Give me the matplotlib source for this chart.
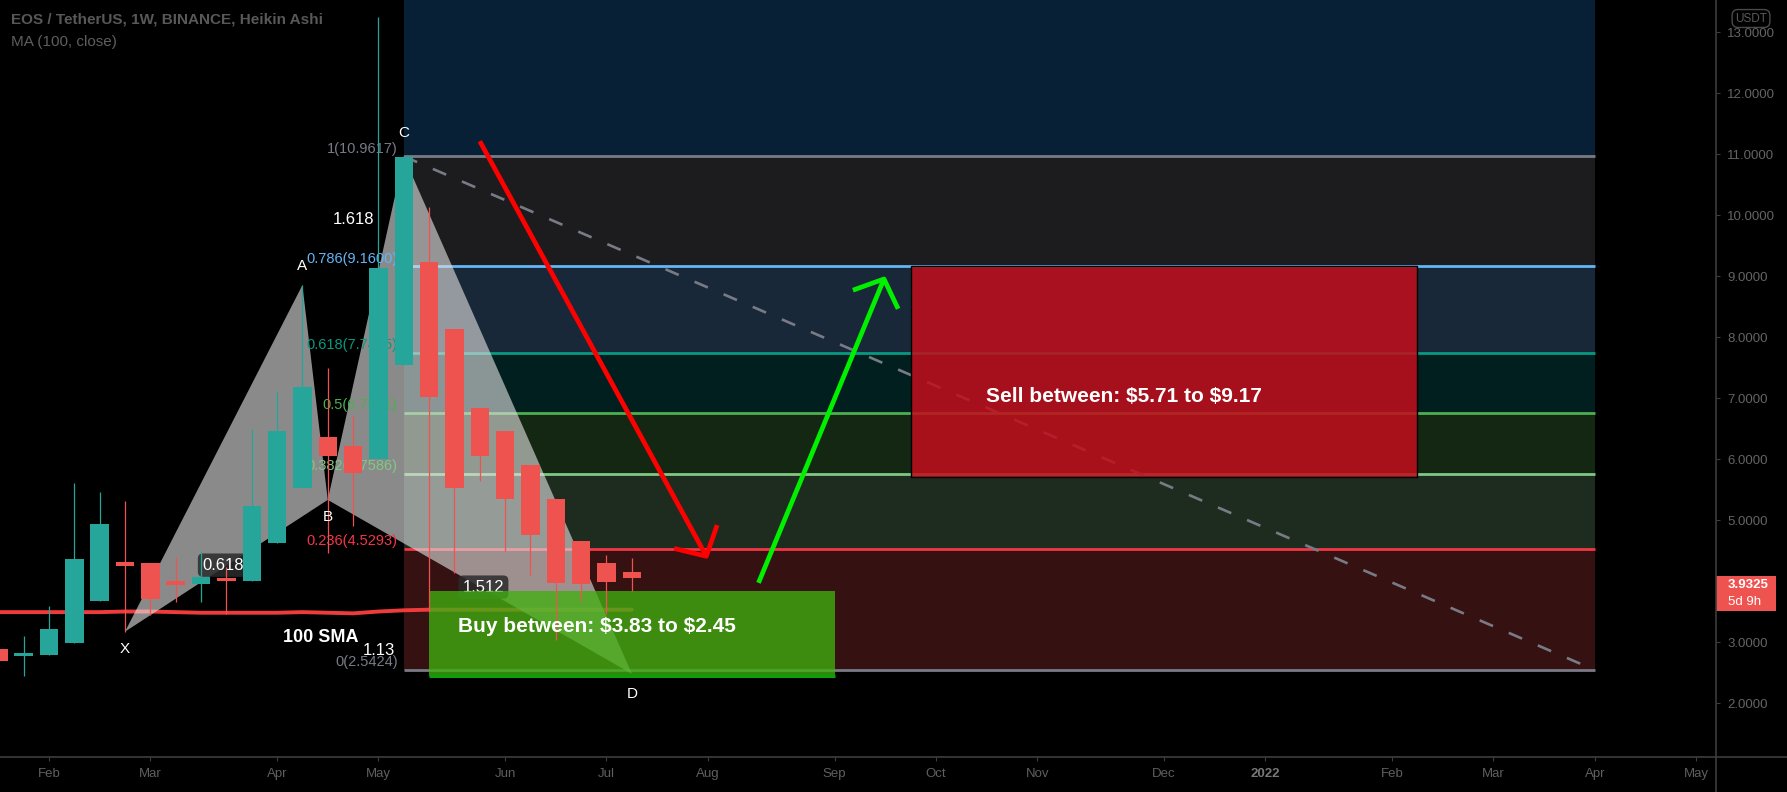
import numpy as np
import pandas as pd
import matplotlib
matplotlib.use("Agg")
import matplotlib.pyplot as plt
import matplotlib.dates as mdates
import matplotlib.transforms as mtransforms
from matplotlib.patches import Rectangle, Polygon, FancyArrowPatch
from matplotlib.lines import Line2D

plt.rcParams["font.family"] = ["Liberation Sans", "DejaVu Sans"]

# weekly Heikin Ashi candles, EOS / USDT
candle_dates = pd.date_range("2021-01-18", periods=26, freq="7D")
ha_open = [2.89, 2.79, 2.79, 2.98, 3.67, 4.31, 4.30, 4.00, 3.95, 4.03, 4.00, 4.62, 5.52,
           6.36, 6.21, 6.00, 7.54, 9.23, 8.13, 6.84, 6.46, 5.90, 5.34, 4.65, 4.30, 4.15]
ha_high = [2.89, 3.10, 3.59, 5.61, 5.46, 5.31, 4.30, 4.39, 4.49, 4.23, 6.49, 7.10, 8.85,
           7.49, 6.70, 13.25, 10.96, 10.13, 8.13, 6.84, 6.46, 5.90, 5.34, 4.65, 4.43, 4.38]
ha_low = [2.69, 2.44, 2.79, 2.98, 3.67, 3.16, 3.44, 3.66, 3.66, 3.46, 4.00, 4.62, 5.52,
          4.46, 4.90, 6.00, 7.54, 3.50, 4.13, 5.64, 4.50, 4.10, 3.03, 3.67, 3.46, 3.84]
ha_close = [2.69, 2.81, 3.21, 4.36, 4.93, 4.25, 3.70, 3.93, 4.07, 4.01, 5.23, 6.46, 7.18,
            6.05, 5.77, 9.13, 10.95, 7.02, 5.53, 6.05, 5.34, 4.76, 3.97, 3.95, 3.98, 4.05]
ma100 = [3.49, 3.49, 3.49, 3.49, 3.49, 3.50, 3.50, 3.49, 3.48, 3.48, 3.48, 3.48, 3.49,
         3.48, 3.47, 3.50, 3.52, 3.53, 3.53, 3.53, 3.53, 3.53, 3.53, 3.53, 3.53, 3.53]
last_price = 3.9325

# XABCD pattern
xabcd_names = ["X", "A", "B", "C", "D"]
xabcd_dates = ["2021-02-22", "2021-04-12", "2021-04-19", "2021-05-10", "2021-07-12"]
xabcd_prices = [3.17, 8.85, 5.33, 10.96, 2.48]
ratio_texts = ["0.618", "1.618", "1.512", "1.13"]
ratio_dates = ["2021-03-21", "2021-04-26", "2021-06-01", "2021-05-03"]
ratio_prices = [4.26, 9.93, 3.90, 2.86]

# fib retracement
fib_start, fib_end = "2021-05-10", "2022-04-04"
fib_ratios = [0, 0.236, 0.382, 0.5, 0.618, 0.786, 1, 1.618]
fib_prices = [2.5424, 4.5293, 5.7586, 6.7521, 7.7455, 9.1600, 10.9617, 16.1648]
fib_labels = ["0(2.5424)", "0.236(4.5293)", "0.382(5.7586)", "0.5(6.7521)",
              "0.618(7.7455)", "0.786(9.1600)", "1(10.9617)"]
fib_line_colors = ["#787b86", "#f23645", "#81c784", "#4caf50", "#089981", "#64b5f6", "#787b86"]
fib_zone_colors = ["#361111", "#1e2c20", "#132713", "#011f1e", "#182838", "#1c1c1e", "#072035"]

# trade zones
buy_dates, buy_prices = ["2021-05-17", "2021-09-06"], [2.45, 3.83]
sell_dates, sell_prices = ["2021-09-27", "2022-02-14"], [5.71, 9.17]
red_arrow = (["2021-05-31", "2021-08-02"], [11.21, 4.36])
green_arrow = (["2021-08-16", "2021-09-20"], [3.97, 9.00])

TEAL, RED = "#26a69a", "#ef5350"
d2n = lambda s: mdates.date2num(pd.Timestamp(s))

fig = plt.figure(figsize=(17.87, 7.92), dpi=100, facecolor="black")
ax_l, ax_b, ax_w, ax_h = 0, 35 / 792, 1716 / 1787, 757 / 792
ax = fig.add_axes([ax_l, ax_b, ax_w, ax_h])
ax.set_facecolor("black")

base = d2n("2021-02-01")
ax.set_xlim(base - 13.54, base + 460.5)
ax.set_ylim(1.115, 13.525)

# fib zones and levels
fx0, fx1 = d2n(fib_start), d2n(fib_end)
for i in range(len(fib_prices) - 1):
    ax.fill_between([fx0, fx1], fib_prices[i], fib_prices[i + 1],
                    color=fib_zone_colors[i], lw=0, zorder=1)
for p, c, lab in zip(fib_prices, fib_line_colors, fib_labels):
    ax.plot([fx0, fx1], [p, p], color=c, lw=2, zorder=1.5, solid_capstyle="butt")
    ax.annotate(lab, (fx0, p), xytext=(-4.5, 0.5), textcoords="offset points",
                ha="right", va="bottom", color=c, fontsize=10.5, zorder=2.8)
ax.plot([fx0, fx1], [fib_prices[6], fib_prices[0]], color="#787b86", lw=1.9,
        dashes=(5.5, 6.5), zorder=1.6)

# 100 MA
xc = mdates.date2num(candle_dates)
ax.plot(xc, ma100, color="#ee3b3b", lw=2.8, zorder=2, solid_capstyle="round")

# harmonic pattern triangles
px = [d2n(d) for d in xabcd_dates]
tri1 = Polygon(list(zip(px[0:3], xabcd_prices[0:3])), closed=True,
               fc="#e0e0e0", alpha=0.62, ec="none", zorder=2.5)
tri2 = Polygon(list(zip(px[2:5], xabcd_prices[2:5])), closed=True,
               fc="#e0e0e0", alpha=0.62, ec="none", zorder=2.5)
ax.add_patch(tri1)
ax.add_patch(tri2)

for t, d, p in zip(ratio_texts, ratio_dates, ratio_prices):
    box = None
    if t in ("0.618", "1.512"):
        box = dict(boxstyle="round,pad=0.25,rounding_size=0.3", fc="#2b2b2b", ec="none", alpha=0.85)
    ax.text(d2n(d), p, t, color="white", fontsize=12, ha="center", va="center",
            bbox=box, zorder=2.7)

offsets = [-17, 19, -17, 23, -20]
for n, x, p, off in zip(xabcd_names, px, xabcd_prices, offsets):
    ax.annotate(n, (x, p), xytext=(0, off * 0.72), textcoords="offset points",
                ha="center", va="center", color="white", fontsize=11, zorder=5)

# buy / sell boxes
b0, b1 = d2n(buy_dates[0]), d2n(buy_dates[1])
ax.add_patch(Rectangle((b0, buy_prices[0]), b1 - b0, buy_prices[1] - buy_prices[0],
                       fc="#40b010", alpha=0.78, ec="none", zorder=3))
ax.plot([b0, b1], [buy_prices[0], buy_prices[0]], color="#0aa00a", lw=2.2, zorder=3.1,
        solid_capstyle="butt")
ax.text(d2n("2021-05-25"), 3.26, "Buy between: \\$3.83 to \\$2.45", color="white",
        fontsize=15, fontweight="bold", ha="left", va="center", zorder=5)

s0, s1 = d2n(sell_dates[0]), d2n(sell_dates[1])
ax.add_patch(Rectangle((s0, sell_prices[0]), s1 - s0, sell_prices[1] - sell_prices[0],
                       fc="#c20e1c", alpha=0.86, ec="none", zorder=3))
ax.add_patch(Rectangle((s0, sell_prices[0]), s1 - s0, sell_prices[1] - sell_prices[0],
                       fc="none", ec="black", lw=1, zorder=3.1))
ax.text(d2n("2021-11-25"), 7.02, "Sell between: \\$5.71 to \\$9.17", color="white",
        fontsize=15, fontweight="bold", ha="center", va="center", zorder=5)

# candles
o, h, l, c = map(np.array, (ha_open, ha_high, ha_low, ha_close))
cols = np.where(c >= o, TEAL, RED)
ax.vlines(xc, l, h, colors=cols, lw=0.9, zorder=4)
body_h = np.maximum(np.abs(c - o), 0.05)
body_b = np.minimum(o, c) - (body_h - np.abs(c - o)) / 2
ax.bar(xc, body_h, bottom=body_b, width=5.1, color=cols, lw=0, zorder=4.1)

ax.text(d2n("2021-04-17"), 3.08, "100 SMA", color="white", fontsize=13,
        fontweight="bold", ha="center", va="center", zorder=5)

# arrows
for (dts, prs), col in ((red_arrow, "#ff0000"), (green_arrow, "#00f000")):
    arr = FancyArrowPatch((d2n(dts[0]), prs[0]), (d2n(dts[1]), prs[1]),
                          arrowstyle="->,head_length=0.8,head_width=0.88",
                          mutation_scale=20, lw=3.4, color=col,
                          shrinkA=0, shrinkB=0, zorder=6, capstyle="butt")
    ax.add_patch(arr)

# axes styling
for s in ax.spines.values():
    s.set_visible(False)
grid_col = "#3d3d3d"
fig.add_artist(Line2D([ax_w, ax_w], [0, 1], transform=fig.transFigure, color=grid_col, lw=1.2))
fig.add_artist(Line2D([0, 1], [ax_b, ax_b], transform=fig.transFigure, color=grid_col, lw=1.2))

ax.yaxis.tick_right()
yt = np.arange(2, 14)
ax.set_yticks(yt)
ax.set_yticklabels([f"{v:.4f}" for v in yt])
ax.tick_params(axis="y", colors=grid_col, labelcolor="#646464", length=3, pad=5, labelsize=9.5)

mondays = pd.date_range("2021-02-01", "2022-05-02", freq="7D")
month_ticks = [d for i, d in enumerate(mondays) if i == 0 or d.month != mondays[i - 1].month]
month_labels = ["2022" if d.month == 1 else d.strftime("%b") for d in month_ticks]
ax.set_xticks(mdates.date2num(month_ticks))
ax.set_xticklabels(month_labels)
ax.tick_params(axis="x", colors=grid_col, labelcolor="#5f5f5f", length=3, pad=5, labelsize=9.5)
for t in ax.get_xticklabels():
    if t.get_text() == "2022":
        t.set_fontweight("bold")
        t.set_color("#777777")

# header
ax.text(11 / 1716, 1 - 20 / 757, "EOS / TetherUS, 1W, BINANCE, Heikin Ashi", transform=ax.transAxes,
        color="#585858", fontsize=11, fontweight="bold", ha="left", va="center")
ax.text(11 / 1716, 1 - 42 / 757, "MA (100, close)", transform=ax.transAxes,
        color="#5e5e5e", fontsize=11, ha="left", va="center")

# price scale extras
fig.text(1751 / 1787, 1 - 18.5 / 792, "USDT", color="#5a5a5a", fontsize=8.5, ha="center",
         va="center", bbox=dict(boxstyle="round,pad=0.25,rounding_size=0.5", fc="black",
                                ec="#4a4a4a", lw=1))
trans = mtransforms.blended_transform_factory(ax.transAxes, ax.transData)
ax.add_patch(Rectangle((1.0, 3.508), 60 / 1716, 0.574, transform=trans, fc="#ef5350",
                       ec="none", clip_on=False, zorder=7))
ax.text(1.007, last_price, f"{last_price:.4f}", transform=trans, color="white", fontsize=9.5,
        fontweight="bold", ha="left", va="center", zorder=8, clip_on=False)
ax.text(1.007, 3.656, "5d 9h", transform=trans, color="white", fontsize=9.5,
        ha="left", va="center", zorder=8, clip_on=False)

fig.savefig("out.png", dpi=100, facecolor="black")
